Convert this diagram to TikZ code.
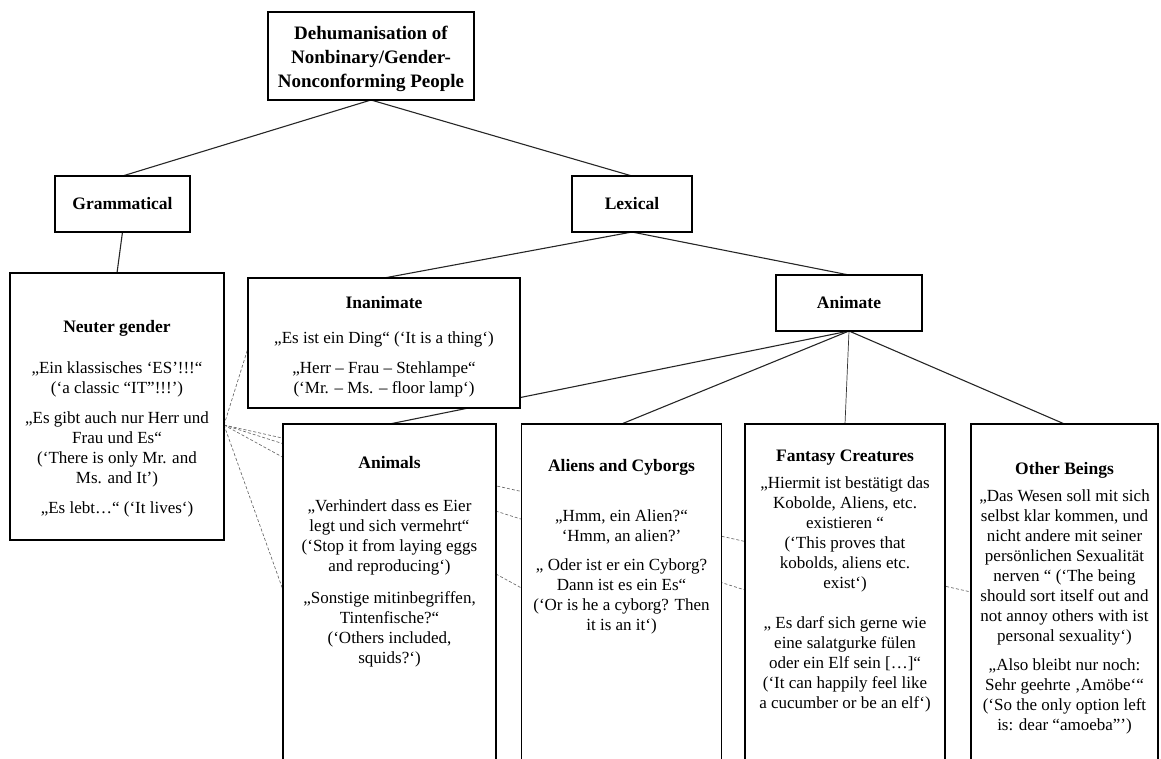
\documentclass[tikz,border=0pt]{standalone}
\usepackage{fontspec}
\setmainfont{Liberation Serif}
\usetikzlibrary{calc}
\pgfdeclarelayer{bg}
\pgfsetlayers{bg,main}
\tikzset{
  box/.style={draw=black, line width=1.5pt, fill=white, inner sep=0pt, outer sep=0pt},
  body/.style={align=center, inner sep=0pt, anchor=north, font=\fontsize{17}{20}\selectfont},
  head/.style={align=center, inner sep=0pt, font=\fontsize{17.5}{21}\selectfont\bfseries},
  conn/.style={line width=1.1pt, black!85},
  thinconn/.style={line width=0.7pt, black!80},
  dsh/.style={line width=0.65pt, black!60, dash pattern=on 3pt off 2pt},
}
\begin{document}
\begin{tikzpicture}[x=1pt,y=-1pt]
\useasboundingbox (0,0) rectangle (1161,758);
\clip (0,0) rectangle (1161,758);

% boxes
\node[box, minimum width=206pt, minimum height=88pt] (top) at (371,56) {};
\node[box, minimum width=135pt, minimum height=56pt] (gram) at (122.5,204) {};
\node[box, minimum width=120pt, minimum height=56pt] (lex) at (632,204) {};
\node[box, minimum width=214pt, minimum height=267pt] (neuter) at (117,406.5) {};
\node[box, minimum width=272pt, minimum height=130pt] (inan) at (384,343) {};
\node[box, minimum width=146pt, minimum height=56pt] (animate) at (849,303) {};
\node[box, minimum width=213pt, minimum height=366pt] (anim) at (389.5,607) {};
\node[box, minimum width=200pt, minimum height=366pt] (alien) at (621.5,607) {};
\node[box, minimum width=200pt, minimum height=366pt] (fant) at (845,607) {};
\node[box, minimum width=187pt, minimum height=366pt] (other) at (1064.5,607) {};

% helper coordinates
\coordinate (np) at ($(neuter.north east)+(0,152)$);
\coordinate (y348) at (0,348);
\coordinate (y588) at (0,588);
\coordinate (y590) at (0,590);
\coordinate (y592) at (0,592);

\begin{pgfonlayer}{bg}
\draw[conn] (top.south) -- (gram.north);
\draw[conn] (top.south) -- (lex.north);
\draw[conn] (gram.south) -- (neuter.north);
\draw[conn] (lex.south) -- (inan.north);
\draw[conn] (lex.south) -- (animate.north);
\draw[conn] (animate.south) -- (anim.north);
\draw[conn] (animate.south) -- (alien.north);
\draw[thinconn] (animate.south) -- (fant.north);
\draw[conn] (animate.south) -- (other.north);
\draw[dsh] (np) -- (inan.west |- y348);
\draw[dsh] (np) -- (other.west |- y592);
\draw[dsh] (np) -- (fant.west |- y590);
\draw[dsh] (np) -- (alien.west |- y588);
\draw[dsh] (np) -- (anim.west |- y590);
\end{pgfonlayer}

% texts
\node[head, font=\fontsize{19}{24}\selectfont\bfseries] (toptxt) at ($(top.center)+(0,3)$) {Dehumanisation of\\Nonbinary/Gender-\\Nonconforming People};
\node[head] (gtxt) at (gram.center) {Grammatical};
\node[head] (ltxt) at (lex.center) {Lexical};
\node[head] (atxt) at (animate.center) {Animate};

\node[head] (ntitle) at (117,328) {Neuter gender};
\node[body] (nbody) at (117,361) {„Ein klassisches ‘ES’!!!“\\
(‘a classic “IT”!!!’)\\[10pt]
„Es gibt auch nur Herr und\\
Frau und Es“\\
(‘There is only Mr. and\\
Ms. and It’)\\[10pt]
„Es lebt…“ (‘It lives‘)};

\node[head] (ititle) at (384,303) {Inanimate};
\node[body] (ibody) at (384,331) {„Es ist ein Ding“ (‘It is a thing‘)\\[10pt]
„Herr – Frau – Stehlampe“\\
(‘Mr. – Ms. – floor lamp‘)};

\node[head] (antitle) at (389.5,463) {Animals};
\node[body] (anbody) at (389.5,499) {„Verhindert dass es Eier\\
legt und sich vermehrt“\\
(‘Stop it from laying eggs\\
and reproducing‘)\\[12pt]
„Sonstige mitinbegriffen,\\
Tintenfische?“\\
(‘Others included,\\
squids?‘)};

\node[head] (altitle) at (621.5,467) {Aliens and Cyborgs};
\node[body] (albody) at (621.5,509) {„Hmm, ein Alien?“\\
‘Hmm, an alien?’\\[9pt]
„ Oder ist er ein Cyborg?\\
Dann ist es ein Es“\\
(‘Or is he a cyborg? Then\\
it is an it‘)};

\node[head] (ftitle) at (845,458) {Fantasy Creatures};
\node[body] (fbody) at (845,476) {„Hiermit ist bestätigt das\\
Kobolde, Aliens, etc.\\
existieren “\\
(‘This proves that\\
kobolds, aliens etc.\\
exist‘)\\[20pt]
„ Es darf sich gerne wie\\
eine salatgurke fülen\\
oder ein Elf sein […]“\\
(‘It can happily feel like\\
a cucumber or be an elf‘)};

\node[head] (otitle) at (1064.5,470) {Other Beings};
\node[body] (obody) at (1064.5,489) {„Das Wesen soll mit sich\\
selbst klar kommen, und\\
nicht andere mit seiner\\
persönlichen Sexualität\\
nerven “ (‘The being\\
should sort itself out and\\
not annoy others with ist\\
personal sexuality‘)\\[9pt]
„Also bleibt nur noch:\\
Sehr geehrte ‚Amöbe‘“\\
(‘So the only option left\\
is: dear “amoeba”’)};
\end{tikzpicture}
\end{document}
